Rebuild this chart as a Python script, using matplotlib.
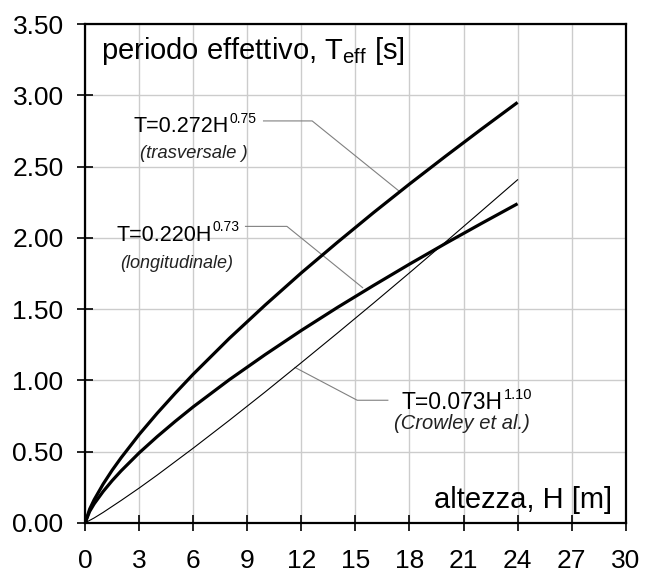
import numpy as np
import matplotlib
matplotlib.use("Agg")
import matplotlib.pyplot as plt

plt.rcParams['font.family'] = ['Liberation Sans', 'DejaVu Sans']
plt.rcParams['mathtext.fontset'] = 'custom'
plt.rcParams['mathtext.rm'] = 'Liberation Sans'
plt.rcParams['mathtext.it'] = 'Liberation Sans:italic'

# altezza H [m] and periodo T [s]
H_tras = [0, 0.25, 0.5, 1, 1.5, 2, 3, 4, 5, 6, 8, 10, 12, 14, 16, 18, 20, 22, 24]
T_tras = [0, 0.096, 0.162, 0.272, 0.369, 0.457, 0.620, 0.769, 0.909, 1.043, 1.294,
          1.529, 1.754, 1.968, 2.176, 2.377, 2.572, 2.763, 2.950]

H_long = [0, 0.25, 0.5, 1, 1.5, 2, 3, 4, 5, 6, 8, 10, 12, 14, 16, 18, 20, 22, 24]
T_long = [0, 0.080, 0.133, 0.220, 0.296, 0.365, 0.491, 0.605, 0.712, 0.814, 1.004,
          1.181, 1.350, 1.511, 1.665, 1.815, 1.960, 2.101, 2.239]

H_crow = [0, 0.5, 1, 2, 3, 4, 6, 8, 10, 12, 14, 16, 18, 20, 22, 24]
T_crow = [0, 0.034, 0.073, 0.157, 0.244, 0.335, 0.524, 0.719, 0.919, 1.124, 1.331,
          1.541, 1.754, 1.970, 2.188, 2.407]

# leader lines (label -> curve)
lead_tras = ([9.9, 12.6, 17.4], [2.82, 2.82, 2.33])
lead_long = ([8.9, 11.2, 15.4], [2.08, 2.08, 1.65])
lead_crow = ([11.65, 15.1, 16.8], [1.09, 0.86, 0.86])

# labels: (x left, baseline y, base, exponent, note, note x centre, note baseline, sizes)
labels = [
    (2.66, 2.742, "T=0.272H", "0.75", "(trasversale )", 6.05, 2.56, 15.5, 10, 13.3),
    (1.72, 1.978, "T=0.220H", "0.73", "(longitudinale)", 5.10, 1.79, 15.5, 10, 13.0),
    (17.58, 0.80, "T=0.073H", "1.10", "(Crowley et al.)", 20.9, 0.66, 16.5, 10.5, 14.5),
]

fig, ax = plt.subplots(figsize=(6.6, 5.72), dpi=100)
plt.subplots_adjust(left=0.129, right=0.948, bottom=0.086, top=0.958)

ax.plot(H_tras, T_tras, c='k', lw=2.3, solid_capstyle='butt', zorder=3)
ax.plot(H_long, T_long, c='k', lw=2.3, solid_capstyle='butt', zorder=3)
ax.plot(H_crow, T_crow, c='k', lw=0.8, zorder=3)
for lx, ly in (lead_tras, lead_long, lead_crow):
    ax.plot(lx, ly, c='#808080', lw=0.8, zorder=2)

ax.set_xlim(0, 30)
ax.set_ylim(0, 3.5)
ax.set_xticks(np.arange(0, 31, 3))
ax.set_yticks(np.arange(0, 3.51, 0.5))
ax.set_yticklabels(["%.2f" % v for v in np.arange(0, 3.51, 0.5)])
ax.grid(True, color='#cccccc', lw=1.0)
ax.set_axisbelow(True)
ax.tick_params(direction='inout', length=11, width=1.2, labelsize=19, colors='k')
ax.tick_params(axis='x', pad=13)
ax.tick_params(axis='y', pad=10)
for s in ax.spines.values():
    s.set_linewidth(1.6)

ax.text(0.03, 0.945, r"periodo effettivo, T$_{\mathrm{eff}}$ [s]", transform=ax.transAxes,
        fontsize=21, ha='left', va='center')
ax.text(0.975, 0.045, "altezza, H [m]", transform=ax.transAxes,
        fontsize=21, ha='right', va='center')

for x, y, base, expo, note, nx, ny, fs, fsup, fnote in labels:
    t = ax.text(x, y, base, fontsize=fs, ha='left', va='baseline')
    ax.annotate(expo, xy=(1, 0), xycoords=t, xytext=(0.5, 0.21 * fs + 7.2),
                textcoords='offset points', fontsize=fsup, ha='left', va='baseline')
    ax.text(nx, ny, note, fontsize=fnote, style='italic', ha='center', va='baseline',
            color='#222222')

fig.savefig("out.png", dpi=100)
